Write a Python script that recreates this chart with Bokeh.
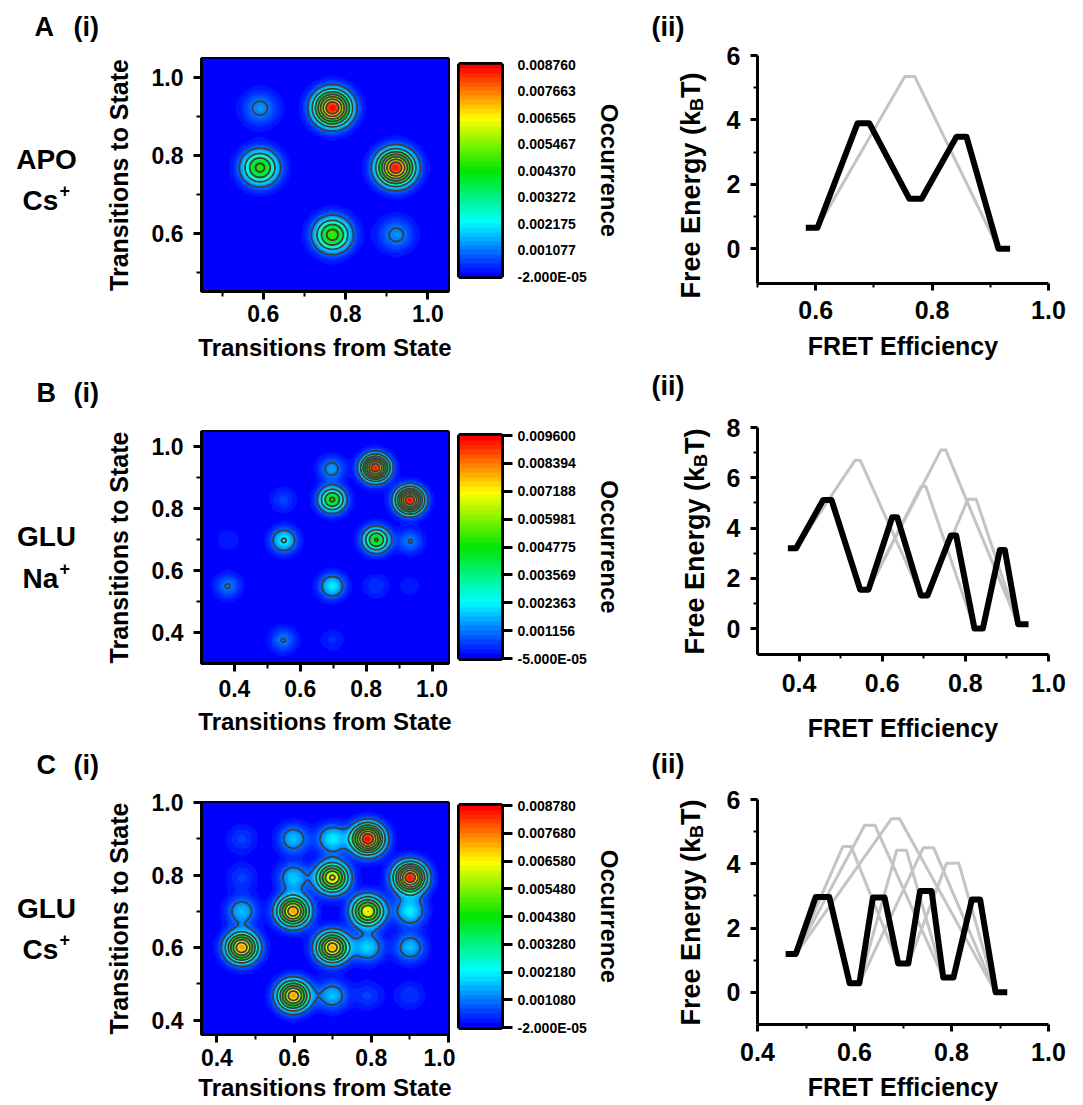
import numpy as np
from bokeh.plotting import figure
from bokeh.layouts import row, column
from bokeh.models import (LinearColorMapper, FixedTicker, Label, Range1d,
                          NumeralTickFormatter)
from bokeh.embed import file_html
from bokeh.resources import INLINE

FONT = "Liberation Sans"

# ---------------------------------------------------------------- data ----
row_letters = ["A", "B", "C"]
row_sample = ["APO", "GLU", "GLU"]
row_ion = ["Cs", "Na", "Cs"]

# (i) transition density plots: peak centres (from, to) and occurrence
tdp_a_from = [0.768, 0.922, 0.592, 0.768, 0.592, 0.923]
tdp_a_to = [0.923, 0.769, 0.769, 0.596, 0.922, 0.596]
tdp_a_occ = [0.00876, 0.00860, 0.00470, 0.00490, 0.00132, 0.00130]
tdp_a_width = 0.0295
cbar_a_labels = ["-2.000E-05", "0.001077", "0.002175", "0.003272", "0.004370",
                 "0.005467", "0.006565", "0.007663", "0.008760"]

tdp_b_from = [0.828, 0.933, 0.697, 0.831, 0.550, 0.697, 0.695, 0.379, 0.548,
              0.934, 0.548, 0.380, 0.830, 0.697, 0.933]
tdp_b_to = [0.933, 0.828, 0.830, 0.700, 0.698, 0.550, 0.930, 0.550, 0.375,
            0.695, 0.830, 0.700, 0.550, 0.375, 0.550]
tdp_b_occ = [0.00940, 0.00960, 0.00500, 0.00490, 0.00250, 0.00235, 0.00155,
             0.00125, 0.00124, 0.00123, 0.00070, 0.00040, 0.00060, 0.00045,
             0.00035]
tdp_b_width = 0.027
cbar_b_labels = ["-5.000E-05", "0.001156", "0.002363", "0.003569", "0.004775",
                 "0.005981", "0.007188", "0.008394", "0.009600"]

tdp_c_from = [0.791, 0.901, 0.699, 0.597, 0.791, 0.464, 0.699, 0.598, 0.598,
              0.699, 0.598, 0.464, 0.901, 0.791, 0.901, 0.699, 0.464, 0.464,
              0.791, 0.901]
tdp_c_to = [0.900, 0.793, 0.793, 0.700, 0.700, 0.600, 0.600, 0.467, 0.900,
            0.900, 0.793, 0.700, 0.700, 0.600, 0.600, 0.467, 0.900, 0.793,
            0.467, 0.467]
tdp_c_occ = [0.00878, 0.00860, 0.00680, 0.00740, 0.00660, 0.00750, 0.00730,
             0.00740, 0.00170, 0.00210, 0.00180, 0.00170, 0.00210, 0.00190,
             0.00170, 0.00170, 0.00060, 0.00060, 0.00060, 0.00055]
tdp_c_width = 0.027
cbar_c_labels = ["-2.000E-05", "0.001080", "0.002180", "0.003280", "0.004380",
                 "0.005480", "0.006580", "0.007680", "0.008780"]

# (ii) free-energy profiles
fe_a_black_x = [0.583, 0.603, 0.672, 0.692, 0.761, 0.782, 0.842, 0.859, 0.914, 0.934]
fe_a_black_y = [0.65, 0.65, 3.90, 3.90, 1.55, 1.55, 3.48, 3.48, 0.00, 0.00]
fe_a_grey_x = [[0.603, 0.753, 0.770, 0.914]]
fe_a_grey_y = [[0.65, 5.35, 5.35, 0.00]]

fe_b_black_x = [0.373, 0.393, 0.458, 0.478, 0.547, 0.567, 0.624, 0.636, 0.693,
                0.709, 0.765, 0.778, 0.822, 0.842, 0.883, 0.895, 0.927, 0.952]
fe_b_black_y = [3.20, 3.20, 5.12, 5.12, 1.55, 1.55, 4.43, 4.43, 1.32,
                1.32, 3.70, 3.70, 0.00, 0.00, 3.13, 3.13, 0.17, 0.17]
fe_b_grey_x = [[0.393, 0.535, 0.547, 0.693],
               [0.567, 0.741, 0.753, 0.927],
               [0.567, 0.693, 0.705, 0.822],
               [0.709, 0.806, 0.826, 0.927]]
fe_b_grey_y = [[3.20, 6.70, 6.70, 1.32],
               [1.55, 7.10, 7.10, 0.17],
               [1.55, 5.65, 5.65, 0.00],
               [1.32, 5.15, 5.15, 0.17]]

fe_c_black_x = [0.458, 0.479, 0.520, 0.548, 0.590, 0.610, 0.638, 0.662, 0.690,
                0.711, 0.735, 0.759, 0.783, 0.804, 0.842, 0.859, 0.891, 0.915]
fe_c_black_y = [1.19, 1.19, 2.97, 2.97, 0.28, 0.28, 2.95, 2.95, 0.90,
                0.90, 3.15, 3.15, 0.46, 0.46, 2.89, 2.89, 0.00, 0.00]
fe_c_grey_x = [[0.479, 0.576, 0.593, 0.690],
               [0.479, 0.621, 0.642, 0.783],
               [0.479, 0.676, 0.693, 0.891],
               [0.610, 0.687, 0.707, 0.783],
               [0.610, 0.742, 0.763, 0.891],
               [0.711, 0.790, 0.815, 0.891]]
fe_c_grey_y = [[1.19, 4.54, 4.54, 0.90],
               [1.19, 5.20, 5.20, 0.46],
               [1.19, 5.40, 5.40, 0.00],
               [0.28, 4.42, 4.42, 0.46],
               [0.28, 4.50, 4.50, 0.00],
               [0.90, 4.02, 4.02, 0.00]]

# axis ticks
tdp_ticks = {"A": ([0.6, 0.8, 1.0], [0.5, 0.7, 0.9]),
             "B": ([0.4, 0.6, 0.8, 1.0], [0.5, 0.7, 0.9]),
             "C": ([0.4, 0.6, 0.8, 1.0], [0.5, 0.7, 0.9])}
fe_xticks = {"A": ([0.6, 0.8, 1.0], [0.5, 0.7, 0.9]),
             "B": ([0.4, 0.6, 0.8, 1.0], [0.5, 0.7, 0.9]),
             "C": ([0.4, 0.6, 0.8, 1.0], [0.5, 0.7, 0.9])}
fe_yticks = {"A": ([0, 2, 4, 6], [1, 3, 5]),
             "B": ([0, 2, 4, 6, 8], [1, 3, 5, 7]),
             "C": ([0, 2, 4, 6], [1, 3, 5])}

# ------------------------------------------------------------- layout ----
PAGE_H = 1105
COL_LABEL = (0, 100)
COL_HEAT = (100, 455)
COL_CB = (455, 640)
COL_FELAB = (640, 720)
COL_FE = (720, 1083)

ROWS = {
    "A": dict(top=0, bottom=366,
              heat_frame=(201, 58, 448, 291), heat_xr=(0.45, 1.05), heat_yr=(0.45, 1.05),
              heat_ts=5, heat_xls=9,
              cb_frame=(459, 64, 501, 276), cb_ticks=False,
              fe_frame=(757, 55, 1048, 283), fe_xr=(0.5, 1.0), fe_yr=(-1.08, 6.0),
              fe_ts=10, fe_xls=10,
              letter_y=26, sample_y=159, ion_y=200, ii_y=26, ylab=(690, 185)),
    "B": dict(top=366, bottom=745,
              heat_frame=(201, 431, 448, 663), heat_xr=(0.3, 1.05), heat_yr=(0.3, 1.05),
              heat_ts=8, heat_xls=8,
              cb_frame=(459, 435, 501, 658), cb_ticks=True,
              fe_frame=(757, 427, 1048, 654), fe_xr=(0.3, 1.0), fe_yr=(-1.03, 8.0),
              fe_ts=12, fe_xls=19,
              letter_y=392, sample_y=536, ion_y=578, ii_y=385, ylab=(694, 541)),
    "C": dict(top=745, bottom=1105,
              heat_frame=(201, 802, 448, 1034), heat_xr=(0.36, 1.0), heat_yr=(0.36, 1.0),
              heat_ts=6, heat_xls=5,
              cb_frame=(459, 805, 501, 1027), cb_ticks=True,
              fe_frame=(757, 799, 1048, 1024), fe_xr=(0.4, 1.0), fe_yr=(-1.0, 6.0),
              fe_ts=11, fe_xls=9,
              letter_y=764, sample_y=908, ion_y=949, ii_y=763, ylab=(690, 912)),
}


def rainbow_palette(n):
    stops = [0.0, 0.25, 0.5, 0.75, 1.0]
    cols = [(0, 0, 255), (0, 255, 255), (0, 230, 0), (255, 255, 0), (255, 0, 0)]
    out = []
    for i in range(n):
        t = i / (n - 1)
        r = np.interp(t, stops, [c[0] for c in cols])
        g = np.interp(t, stops, [c[1] for c in cols])
        b = np.interp(t, stops, [c[2] for c in cols])
        out.append("#%02x%02x%02x" % (int(round(r)), int(round(g)), int(round(b))))
    return out


PALETTE = rainbow_palette(48)


def frame_fig(canvas_x, top, bottom, frame, xr, yr, **kw):
    L, R = canvas_x
    l, t, r, b = frame
    p = figure(width=R - L, height=bottom - top,
               x_range=Range1d(*xr), y_range=Range1d(*yr),
               min_border_left=l - L, min_border_right=R - r,
               min_border_top=t - top, min_border_bottom=bottom - b,
               output_backend="svg", toolbar_location=None, tools="", **kw)
    p.grid.visible = False
    p.background_fill_color = "white"
    p.border_fill_color = "white"
    p.outline_line_color = None
    return p


def text_fig(xs):
    x0, x1 = xs
    p = figure(width=x1 - x0, height=PAGE_H, x_range=Range1d(x0, x1),
               y_range=Range1d(0, PAGE_H), min_border=0,
               x_axis_location=None, y_axis_location=None,
               output_backend="svg", toolbar_location=None, tools="")
    p.grid.visible = False
    p.outline_line_color = None
    p.background_fill_color = "white"
    p.border_fill_color = "white"
    return p


def put(p, px, cy, text, size, align="left", angle=0.0):
    """Place text so that its letters are centred on page row cy
    (or page column px for vertical text starting at row cy)."""
    p.add_layout(Label(x=px, y=PAGE_H - cy, text=text, text_font=FONT,
                       text_font_style="bold", text_font_size=f"{size}px",
                       text_align=align, text_baseline="alphabetic",
                       angle=angle, text_color="black"))


def style_axis(ax, tick_fs, label_fs, standoff, label_standoff,
               tick_out=8, minor_out=5):
    ax.axis_line_width = 3
    ax.axis_line_color = "black"
    ax.major_tick_line_width = 3
    ax.minor_tick_line_width = 2
    ax.major_tick_line_color = "black"
    ax.minor_tick_line_color = "black"
    ax.major_tick_in = 0
    ax.major_tick_out = tick_out
    ax.minor_tick_in = 0
    ax.minor_tick_out = minor_out
    ax.major_label_text_font = FONT
    ax.major_label_text_font_style = "bold"
    ax.major_label_text_font_size = f"{tick_fs}px"
    ax.major_label_text_color = "black"
    ax.major_label_standoff = standoff
    ax.axis_label_text_font = FONT
    ax.axis_label_text_font_style = "bold"
    ax.axis_label_text_font_size = f"{label_fs}px"
    ax.axis_label_text_color = "black"
    ax.axis_label_standoff = label_standoff


def tdp_grid(xr, yr, fx, ty, occ, width, base, n=280):
    xs = np.linspace(xr[0], xr[1], n)
    ys = np.linspace(yr[0], yr[1], n)
    X, Y = np.meshgrid(xs, ys)
    Z = np.full_like(X, base)
    for a, b, c in zip(fx, ty, occ):
        Z += c * np.exp(-((X - a) ** 2 + (Y - b) ** 2) / (2 * width ** 2))
    return xs, ys, Z


def heat_fig(key, fx, ty, occ, width, cbar_labels):
    cfg = ROWS[key]
    vals = [float(s) for s in cbar_labels]
    vmin, vmax = vals[0], vals[-1]
    mapper = LinearColorMapper(palette=PALETTE, low=vmin, high=vmax)
    hf, hxr, hyr = cfg["heat_frame"], cfg["heat_xr"], cfg["heat_yr"]
    h = frame_fig(COL_HEAT, cfg["top"], cfg["bottom"], hf, hxr, hyr)
    xs, ys, Z = tdp_grid(hxr, hyr, fx, ty, occ, width, vmin)
    h.image(image=[Z], x=hxr[0], y=hyr[0], dw=hxr[1] - hxr[0],
            dh=hyr[1] - hyr[0], color_mapper=mapper)
    h.contour(x=xs, y=ys, z=Z, levels=vals[1:-1], line_color="#3d3d3d",
              line_width=1.8)
    h.outline_line_color = "black"
    h.outline_line_width = 3
    major, minor = tdp_ticks[key]
    for ax in (h.xaxis[0], h.yaxis[0]):
        ax.ticker = FixedTicker(ticks=major, minor_ticks=minor)
        ax.formatter = NumeralTickFormatter(format="0.0")
    style_axis(h.xaxis[0], 23, 24, cfg["heat_ts"], cfg["heat_xls"])
    style_axis(h.yaxis[0], 23, 25, 10, 16)
    h.xaxis[0].axis_label = "Transitions from State"
    h.yaxis[0].axis_label = "Transitions to State"

    # colour bar
    cf = cfg["cb_frame"]
    c = frame_fig(COL_CB, cfg["top"], cfg["bottom"], cf, (0, 1), (vmin, vmax),
                  x_axis_location=None, y_axis_location="right")
    grad = np.linspace(vmin, vmax, 240).reshape(-1, 1)
    c.image(image=[grad], x=0, y=vmin, dw=1, dh=vmax - vmin, color_mapper=mapper)
    c.outline_line_color = "black"
    c.outline_line_width = 5
    cax = c.yaxis[0]
    cax.ticker = FixedTicker(ticks=vals, minor_ticks=[])
    cax.major_label_overrides = {v: s for v, s in zip(vals, cbar_labels)}
    style_axis(cax, 14, 24, 5, 6, tick_out=11, minor_out=0)
    cax.axis_line_color = None
    if not cfg["cb_ticks"]:
        cax.major_tick_line_color = None
    cax.axis_label = "Occurrence"
    return h, c


def fe_fig(key, bx, by, gx, gy):
    cfg = ROWS[key]
    ff, fxr, fyr = cfg["fe_frame"], cfg["fe_xr"], cfg["fe_yr"]
    f = frame_fig(COL_FE, cfg["top"], cfg["bottom"], ff, fxr, fyr)
    f.multi_line(xs=gx, ys=gy, line_color="#c4c4c4", line_width=3,
                 line_join="round")
    f.line(bx, by, line_color="black", line_width=6, line_join="round")
    xmaj, xmin_ = fe_xticks[key]
    ymaj, ymin_ = fe_yticks[key]
    f.xaxis[0].ticker = FixedTicker(ticks=xmaj, minor_ticks=xmin_)
    f.xaxis[0].formatter = NumeralTickFormatter(format="0.0")
    f.yaxis[0].ticker = FixedTicker(ticks=ymaj, minor_ticks=ymin_)
    f.yaxis[0].formatter = NumeralTickFormatter(format="0")
    style_axis(f.xaxis[0], 25, 25, cfg["fe_ts"], cfg["fe_xls"], tick_out=7, minor_out=4)
    style_axis(f.yaxis[0], 25, 25, 10, 0, tick_out=7, minor_out=4)
    f.xaxis[0].axis_label = "FRET Efficiency"
    return f


# ---------------------------------------------------------- build -------
heat_data = {
    "A": (tdp_a_from, tdp_a_to, tdp_a_occ, tdp_a_width, cbar_a_labels),
    "B": (tdp_b_from, tdp_b_to, tdp_b_occ, tdp_b_width, cbar_b_labels),
    "C": (tdp_c_from, tdp_c_to, tdp_c_occ, tdp_c_width, cbar_c_labels),
}
fe_data = {
    "A": (fe_a_black_x, fe_a_black_y, fe_a_grey_x, fe_a_grey_y),
    "B": (fe_b_black_x, fe_b_black_y, fe_b_grey_x, fe_b_grey_y),
    "C": (fe_c_black_x, fe_c_black_y, fe_c_grey_x, fe_c_grey_y),
}

labels_left = text_fig(COL_LABEL)
labels_fe = text_fig(COL_FELAB)
heats, cbars, fes = [], [], []
for i, key in enumerate(row_letters):
    cfg = ROWS[key]
    h, c = heat_fig(key, *heat_data[key])
    heats.append(h)
    cbars.append(c)
    fes.append(fe_fig(key, *fe_data[key]))

    ly = cfg["letter_y"]
    put(labels_left, 34 if key == "A" else 36, ly, key, 27)
    put(labels_left, 73, ly, "(i)", 27)
    put(labels_left, 46, cfg["sample_y"], row_sample[i], 28, align="center")
    put(labels_left, 22, cfg["ion_y"], row_ion[i], 28)
    put(labels_left, 59, cfg["ion_y"] - 10, "+", 18)

    put(labels_fe, 651, cfg["ii_y"], "(ii)", 27)
    fs, sub = 27, 18
    cx, cy = cfg["ylab"]
    w1 = 6.947 * fs
    w2 = 0.722 * sub
    w3 = 0.944 * fs
    y0 = cy + (w1 + w2 + w3) / 2
    put(labels_fe, cx, y0, "Free Energy (k", fs, angle=np.pi / 2)
    put(labels_fe, cx + 6, y0 - w1, "B", sub, angle=np.pi / 2)
    put(labels_fe, cx, y0 - w1 - w2, "T)", fs, angle=np.pi / 2)

layout = row(labels_left,
             column(*heats, spacing=0),
             column(*cbars, spacing=0),
             labels_fe,
             column(*fes, spacing=0),
             spacing=0)

with open("out.html", "w") as fh:
    fh.write(file_html(layout, INLINE, title="TDP and free energy"))
